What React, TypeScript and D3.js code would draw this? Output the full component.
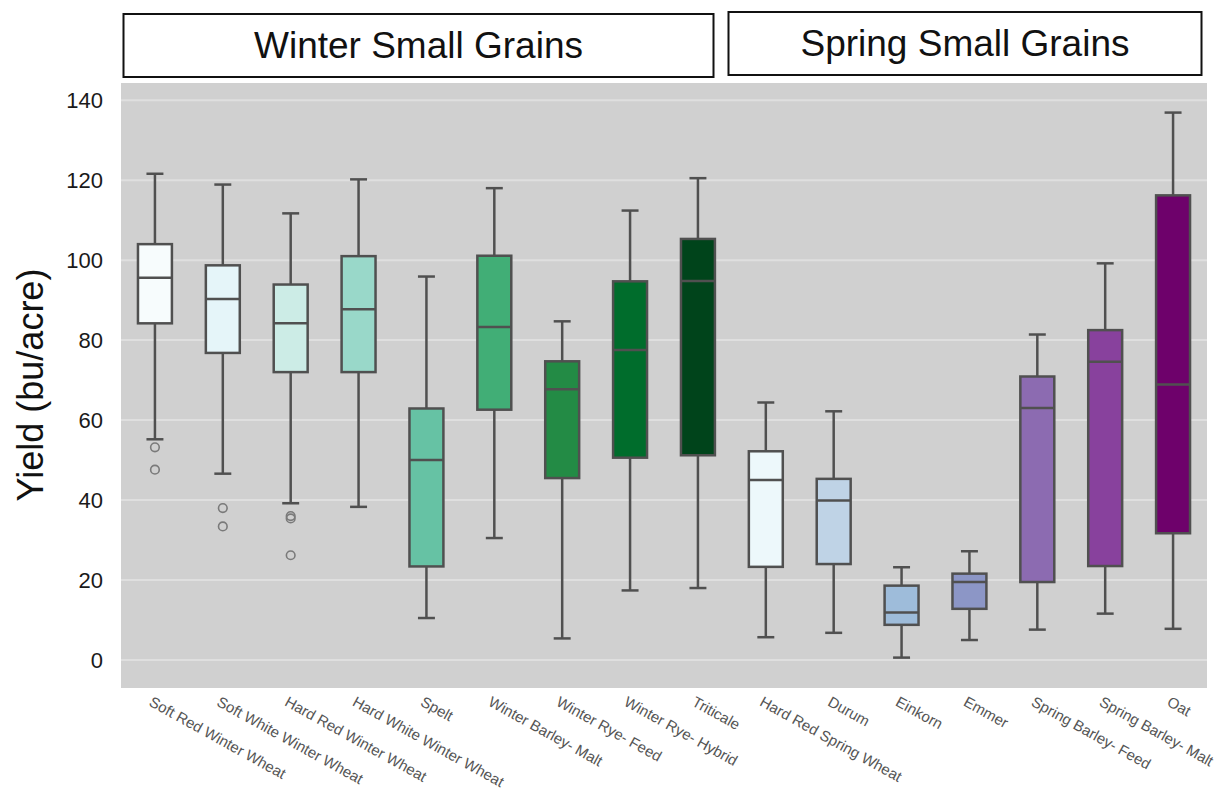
import React from "react";
import * as d3 from "d3";

const categories = [
  "Soft Red Winter Wheat", "Soft White Winter Wheat", "Hard Red Winter Wheat", "Hard White Winter Wheat",
  "Spelt", "Winter Barley- Malt", "Winter Rye- Feed", "Winter Rye- Hybrid", "Triticale",
  "Hard Red Spring Wheat", "Durum", "Einkorn", "Emmer", "Spring Barley- Feed", "Spring Barley- Malt", "Oat",
];
const whiskerLow = [55.2, 46.6, 39.2, 38.3, 10.5, 30.5, 5.4, 17.4, 18.0, 5.7, 6.8, 0.6, 5.0, 7.6, 11.6, 7.8];
const q1 = [84.2, 76.8, 72.0, 72.0, 23.4, 62.6, 45.5, 50.6, 51.2, 23.3, 24.0, 8.8, 12.8, 19.5, 23.5, 31.7];
const medians = [95.6, 90.3, 84.2, 87.7, 50.0, 83.3, 67.7, 77.5, 94.8, 45.0, 39.9, 11.9, 19.5, 63.0, 74.6, 68.9];
const q3 = [104.0, 98.7, 93.9, 101.0, 62.9, 101.1, 74.7, 94.7, 105.3, 52.2, 45.3, 18.6, 21.6, 70.9, 82.5, 116.2];
const whiskerHigh = [121.6, 118.9, 111.7, 120.2, 95.9, 118.0, 84.7, 112.4, 120.5, 64.4, 62.2, 23.2, 27.2, 81.4, 99.2, 136.9];
const outliers = [[53.2, 47.6], [38.0, 33.4], [36.0, 35.4, 26.2], [], [], [], [], [], [], [], [], [], [], [], [], []];
const boxColors = [
  "#f7fcfd", "#e5f5f9", "#ccece6", "#99d8c9", "#66c2a4", "#41ae76", "#238b45", "#006d2c", "#00441b",
  "#edf8fb", "#bfd3e6", "#9ebcda", "#8c96c6", "#8c6bb1", "#88419d", "#6e016b",
];
const yTicks = [0, 20, 40, 60, 80, 100, 120, 140];
const groupTitles = ["Winter Small Grains", "Spring Small Grains"];

const W = 1226;
const H = 794;
const plotL = 121, plotR = 1207, plotT = 83, plotB = 688;
const lineColor = "#505050";

export default function App() {
  const x = d3.scaleBand<string>().domain(categories).range([plotL, plotR]).paddingInner(0).paddingOuter(0);
  const y = d3.scaleLinear().domain([-7, 144.3]).range([plotB, plotT]);
  const bw = x.bandwidth();
  const boxW = bw * 0.5;
  const capW = boxW * 0.5;

  return (
    <svg width={W} height={H} style={{ position: "absolute", left: 0, top: 0, background: "#fff" }}
      fontFamily="'Liberation Sans', Arial, sans-serif">
      {/* header boxes */}
      <rect x={123.5} y={14} width={590} height={63} fill="#fff" stroke="#111" strokeWidth={2} />
      <text x={418.5} y={58} textAnchor="middle" fontSize={37} fill="#111">{groupTitles[0]}</text>
      <rect x={728.5} y={12} width={473} height={63} fill="#fff" stroke="#111" strokeWidth={2} />
      <text x={965} y={56} textAnchor="middle" fontSize={37} fill="#111">{groupTitles[1]}</text>

      {/* plot background */}
      <rect x={plotL} y={plotT} width={plotR - plotL} height={plotB - plotT} fill="#d0d0d0" />
      {yTicks.map((t) => (
        <g key={t}>
          <line x1={plotL} x2={plotR} y1={y(t)} y2={y(t)} stroke="#dfdfdf" strokeWidth={2} />
          <text x={103} y={y(t) + 8} textAnchor="end" fontSize={22} fill="#1a1a1a">{t}</text>
        </g>
      ))}

      {/* y label */}
      <text transform={`translate(43,385) rotate(-90)`} textAnchor="middle" fontSize={36} fill="#111">Yield (bu/acre)</text>

      {/* boxes */}
      {categories.map((c, i) => {
        const cx = (x(c) as number) + bw / 2;
        return (
          <g key={c}>
            <line x1={cx} x2={cx} y1={y(whiskerHigh[i])} y2={y(q3[i])} stroke={lineColor} strokeWidth={2.5} />
            <line x1={cx} x2={cx} y1={y(q1[i])} y2={y(whiskerLow[i])} stroke={lineColor} strokeWidth={2.5} />
            <line x1={cx - capW / 2} x2={cx + capW / 2} y1={y(whiskerHigh[i])} y2={y(whiskerHigh[i])} stroke={lineColor} strokeWidth={2.5} />
            <line x1={cx - capW / 2} x2={cx + capW / 2} y1={y(whiskerLow[i])} y2={y(whiskerLow[i])} stroke={lineColor} strokeWidth={2.5} />
            <rect x={cx - boxW / 2} y={y(q3[i])} width={boxW} height={y(q1[i]) - y(q3[i])}
              fill={boxColors[i]} stroke={lineColor} strokeWidth={2.5} />
            <line x1={cx - boxW / 2} x2={cx + boxW / 2} y1={y(medians[i])} y2={y(medians[i])} stroke={lineColor} strokeWidth={2.5} />
            {outliers[i].map((o, j) => (
              <circle key={j} cx={cx} cy={y(o)} r={4.3} fill="none" stroke="#7a7a7a" strokeWidth={1.6} />
            ))}
            <text transform={`translate(${cx - 7},${plotB + 17}) rotate(29)`} fontSize={15} fill="#555">{c}</text>
          </g>
        );
      })}
    </svg>
  );
}
